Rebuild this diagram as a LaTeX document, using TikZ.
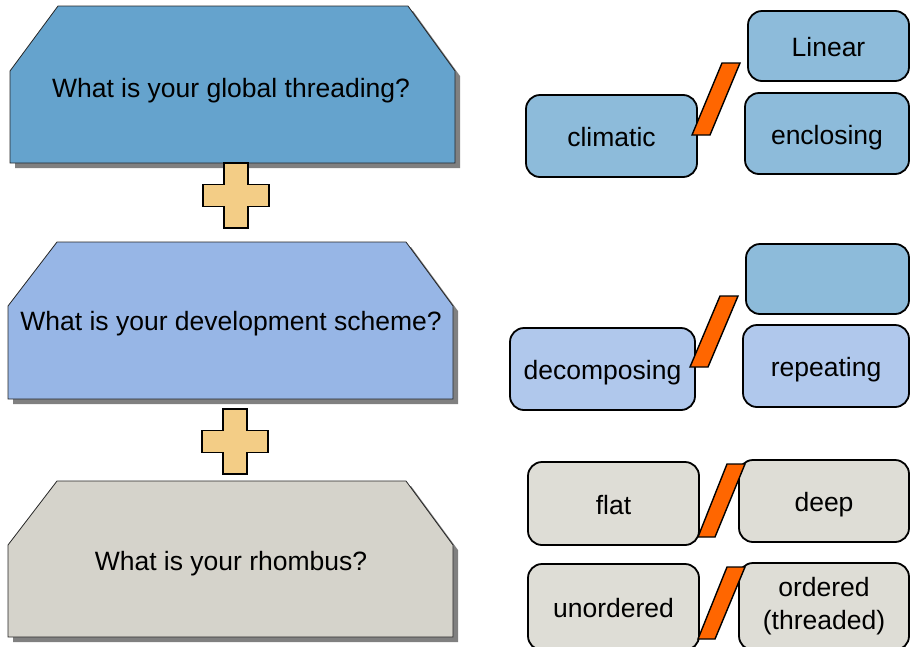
\documentclass[tikz,border=0pt]{standalone}
\usepackage{fontspec}
\setmainfont{Liberation Sans}
\usepackage{tikz}
\usetikzlibrary{calc}

\definecolor{qblue}{HTML}{65A3CD}
\definecolor{qperi}{HTML}{97B6E6}
\definecolor{qgray}{HTML}{D5D3CB}
\definecolor{oblue}{HTML}{8DBBDA}
\definecolor{operi}{HTML}{B0C8EC}
\definecolor{ogray}{HTML}{DEDDD6}
\definecolor{slashorange}{HTML}{FF6600}
\definecolor{plusyellow}{HTML}{F3CD86}

\tikzset{
	question/.style={draw=black!85, line width=0.8pt},
	qshadow/.style={fill=black!50, draw=none},
	qtext/.style={font=\fontsize{26.5}{31}\selectfont, inner sep=0pt, text height=21pt, text depth=0pt},
	optionbox/.style={draw, line width=1.8pt, rounded corners=14pt, align=center, inner sep=0pt,
		font=\fontsize{26.5}{33}\selectfont},
	option/.style={optionbox, text height=21pt, text depth=0pt},
	slash/.style={draw, line width=1.4pt, fill=slashorange},
	plus/.pic={
		\draw[line width=1.5pt, fill=plusyellow]
		(-12,-32.5) -- (12,-32.5) -- (12,-11) -- (33,-11) -- (33,11) -- (12,11) -- (12,32.5)
		-- (-12,32.5) -- (-12,11) -- (-33,11) -- (-33,-11) -- (-12,-11) -- cycle;
	},
}

\begin{document}
\begin{tikzpicture}[x=1pt,y=-1pt]
	\useasboundingbox (0,0) rectangle (910,646);
	% question blocks on the left
	\fill[qshadow] (15,76) -- (63,11) -- (413,11) -- (460,76) -- (460,168) -- (15,168) -- cycle;
	\draw[question, fill=qblue] (10,71) -- (58,6) -- (408,6) -- (455,71) -- (455,163) -- (10,163) -- cycle;
	\node[qtext] at (231,86.5) (global) {What is your global threading?};
	\fill[qshadow] (13,311) -- (62,247) -- (411,247) -- (458,311) -- (458,404) -- (13,404) -- cycle;
	\draw[question, fill=qperi] (8,306) -- (57,242) -- (406,242) -- (453,306) -- (453,399) -- (8,399) -- cycle;
	\node[qtext] at (231,320) (development) {What is your development scheme?};
	\fill[qshadow] (13,550) -- (62,486) -- (411,486) -- (458,550) -- (458,642) -- (13,642) -- cycle;
	\draw[question, fill=qgray] (8,545) -- (57,481) -- (406,481) -- (453,545) -- (453,637) -- (8,637) -- cycle;
	\node[qtext] at (231,559.5) (rhombus) {What is your rhombus?};
	% plus signs
	\pic at (236,195.5) {plus};
	\pic at (235,441.5) {plus};
	% options
	\node[option, fill=oblue, minimum width=171pt, minimum height=82pt] at (611.5,136) (climatic) {climatic};
	\node[option, fill=oblue, minimum width=161pt, minimum height=70pt] at (828.5,46) (linear) {Linear};
	\node[option, fill=oblue, minimum width=164pt, minimum height=81pt] at (827,133.5) (enclosing) {enclosing};
	\draw[slash] (692,135) -- (710,135) -- (740,63) -- (722,63) -- cycle;
	\node[option, fill=operi, minimum width=185pt, minimum height=82pt] at (602.5,369) (decomposing) {decomposing};
	\node[option, fill=oblue, minimum width=163pt, minimum height=70pt] at (827.5,279) (blank) {};
	\node[option, fill=operi, minimum width=166pt, minimum height=82pt] at (826,366) (repeating) {repeating};
	\draw[slash] (690,367) -- (708,367) -- (738,296) -- (720,296) -- cycle;
	\node[option, fill=ogray, minimum width=171pt, minimum height=83pt] at (613.5,503.5) (flat) {flat};
	\node[option, fill=ogray, minimum width=170pt, minimum height=82pt] at (824,501) (deep) {deep};
	\draw[slash] (698,537) -- (715,537) -- (745,464) -- (727,464) -- cycle;
	\node[option, fill=ogray, minimum width=171pt, minimum height=86pt] at (613.5,607) (unordered) {unordered};
	\node[optionbox, fill=ogray, minimum width=170pt, minimum height=87pt] at (824,606.5) (ordered) {ordered\\(threaded)};
	\draw[slash] (698,639) -- (715,639) -- (745,567) -- (727,567) -- cycle;
\end{tikzpicture}
\end{document}
